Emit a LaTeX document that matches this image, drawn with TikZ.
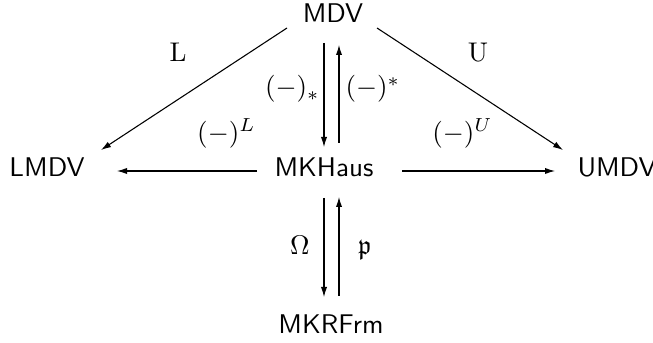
\documentclass[tikz,border=0pt]{standalone}
\usepackage{amssymb}
\usetikzlibrary{calc,arrows.meta}
\begin{document}
\begin{tikzpicture}[x=0.37pt,y=-0.37pt,
  obj/.style={inner sep=0pt,anchor=base,font=\sffamily},
  lbl/.style={inner sep=0pt},
  arr/.style={-{Latex[length=3.7pt,width=2.3pt]},line width=0.4pt}]
\useasboundingbox (0,0) rectangle (653,343);
% objects
\node[obj] (mdv) at (333,23) {MDV};
\node[obj] (mkh) at (324,177) {MKHaus};
\node[obj] (lmdv) at (47,177) {LMDV};
\node[obj] (umdv) at (617,177) {UMDV};
\node[obj] (mkr) at (331,333) {MKRFrm};
% connectors
\draw[arr] ($(mdv.base)+(-46,5)$) -- ($(lmdv.base)+(54,-27)$);
\draw[arr] ($(mdv.base)+(44,5)$) -- ($(umdv.base)+(-54,-27)$);
\draw[arr] ($(mdv.base)+(-9,20)$) -- ($(mkh.base)+(0,-30)$);
\draw[arr] ($(mkh.base)+(15,-34)$) -- ($(mdv.base)+(6,22)$);
\draw[arr] ($(mkh.base)+(-67,-6)$) -- ($(lmdv.base)+(70,-6)$);
\draw[arr] ($(mkh.base)+(78,-6)$) -- ($(umdv.base)+(-62,-6)$);
\draw[arr] ($(mkh.base)+(0,21)$) -- ($(mkr.base)+(-7,-36)$);
\draw[arr] ($(mkr.base)+(8,-37)$) -- ($(mkh.base)+(15,20)$);
% labels
\node[lbl,anchor=base] (lL) at (178,62) {$\mathrm{L}$};
\node[lbl,anchor=base] (lU) at (478,62) {$\mathrm{U}$};
\node[lbl,anchor=base east] (llow) at (320,96) {$(-)_*$};
\node[lbl,anchor=base west] (lup) at (345,96) {$(-)^*$};
\node[lbl,anchor=base west] (lLL) at (196.7,141.6) {$(-)^L$};
\node[lbl,anchor=base west] (lUU) at (431.7,141.6) {$(-)^U$};
\node[lbl,anchor=base] (lOm) at (300,255) {$\Omega$};
\node[lbl,anchor=base] (lp) at (365,255) {$\mathfrak{p}$};
\end{tikzpicture}
\end{document}
